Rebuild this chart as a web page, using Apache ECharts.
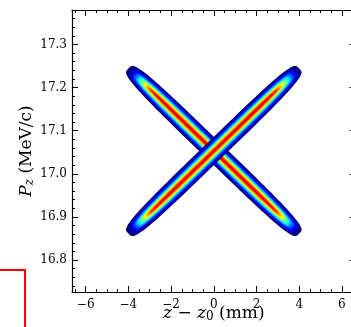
<!DOCTYPE html>
<html>
<head>
<meta charset="utf-8">
<script src="https://cdn.jsdelivr.net/npm/echarts@6/dist/echarts.min.js"></script>
<style>
html,body{margin:0;padding:0;background:#fff;overflow:hidden}
#c{width:351px;height:327px}
</style>
</head>
<body>
<div id="c"></div>
<script>
// ---- axis ranges and tick labels ----
const xRange = [-6.64, 6.64];
const yRange = [16.726, 17.38];
const xTickValues = [-6, -4, -2, 0, 2, 4, 6];
const xTickLabels = ['−6', '−4', '−2', '0', '2', '4', '6'];
const yTickValues = [16.8, 16.9, 17.0, 17.1, 17.2, 17.3];
const yTickLabels = ['16.8', '16.9', '17.0', '17.1', '17.2', '17.3'];
const titleText = 'Bunching phase space';

// ---- the two crossed beams ----
// common centre (mm, MeV/c) and slope dPz/dz of each beam: '\' first, '/' drawn on top
const beamCentre = [0.0, 17.053];
const beamSlopes = [-0.0479, 0.0479];
// density contour levels (normalised colour value) and how far each contour
// reaches along the beam from the centre (x-projection, mm)
const levelValues     = [0.00, 0.07, 0.14, 0.21, 0.28, 0.35, 0.42, 0.49, 0.56, 0.63, 0.70, 0.77, 0.84, 0.90];
const levelTipExtents = [4.00, 3.86, 3.76, 3.68, 3.60, 3.53, 3.46, 3.39, 3.32, 3.24, 3.16, 3.06, 2.95, 2.80];

// ---- styles ----
const levelWidthsPx = [20.5, 17.6, 15.2, 13.4, 12.0, 10.8, 9.7, 8.7, 7.7, 6.6, 5.6, 4.4, 3.0, 1.6];
const contourExponent = 4;
const serif = 'DejaVu Serif';

function jet(v) {
  const c = t => Math.round(255 * Math.max(0, Math.min(1, t)));
  return 'rgb(' + c(1.5 - Math.abs(4 * v - 3)) + ',' + c(1.5 - Math.abs(4 * v - 2)) + ',' +
         c(1.5 - Math.abs(4 * v - 1)) + ')';
}
function lookup(values, labels, v) {
  for (let i = 0; i < values.length; i++) if (Math.abs(values[i] - v) < 1e-6) return labels[i];
  return '';
}

const beamData = [];
beamSlopes.forEach((slope, b) => {
  levelValues.forEach((lv, i) => {
    beamData.push([beamCentre[0], beamCentre[1], slope, levelTipExtents[i], lv, i]);
  });
});

const tickStyle = {color: '#000', width: 1};
function xAx(pos, showLabels) {
  return {
    type: 'value', position: pos, min: xRange[0], max: xRange[1], splitNumber: 6,
    axisLine: {show: true, onZero: false, lineStyle: {color: '#000', width: 1.2}},
    axisTick: {show: true, inside: true, length: 6, lineStyle: tickStyle},
    minorTick: {show: true, splitNumber: 4, length: 3, lineStyle: tickStyle},
    splitLine: {show: false}, minorSplitLine: {show: false},
    axisLabel: {show: showLabels, margin: 7, fontFamily: serif, fontSize: 12, color: '#000',
      formatter: v => lookup(xTickValues, xTickLabels, v)}
  };
}
function yAx(pos, showLabels) {
  return {
    type: 'value', position: pos, min: yRange[0], max: yRange[1], splitNumber: 6,
    axisLine: {show: true, onZero: false, lineStyle: {color: '#000', width: 1.2}},
    axisTick: {show: true, inside: true, length: 6, lineStyle: tickStyle},
    minorTick: {show: true, splitNumber: 5, length: 3, lineStyle: tickStyle},
    splitLine: {show: false}, minorSplitLine: {show: false},
    axisLabel: {show: showLabels, margin: 5, fontFamily: serif, fontSize: 12, color: '#000',
      formatter: v => lookup(yTickValues, yTickLabels, v)}
  };
}

const xBottom = xAx('bottom', true);
xBottom.name = '{i|z} − {i|z}{s|0} (mm)';
xBottom.nameLocation = 'middle';
xBottom.nameGap = 13;
xBottom.nameMoveOverlap = false;
xBottom.nameTextStyle = {fontFamily: serif, fontSize: 17, color: '#000', lineHeight: 18,
  rich: {i: {fontFamily: serif, fontStyle: 'italic', fontSize: 17, lineHeight: 18},
         s: {fontFamily: serif, fontSize: 12, lineHeight: 18, verticalAlign: 'bottom', padding: [8, 0, 0, 0]}}};

const yLeft = yAx('left', true);
yLeft.name = '{i|P}{s|z} (MeV/c)';
yLeft.nameLocation = 'middle';
yLeft.nameGap = 36;
yLeft.nameMoveOverlap = false;
yLeft.nameTextStyle = {fontFamily: serif, fontSize: 17, color: '#000', lineHeight: 18,
  rich: {i: {fontFamily: serif, fontStyle: 'italic', fontSize: 17, lineHeight: 18},
         s: {fontFamily: serif, fontStyle: 'italic', fontSize: 12, lineHeight: 18, verticalAlign: 'bottom', padding: [8, 0, 0, 0]}}};

const chart = echarts.init(document.getElementById('c'), null, {renderer: 'canvas'});
chart.setOption({
  animation: false,
  backgroundColor: '#fff',
  grid: {left: 72, top: 10, right: -4.6, bottom: 35, containLabel: false, outerBoundsMode: 'none'},
  xAxis: [xBottom, xAx('top', false)],
  yAxis: [yLeft, yAx('right', false)],
  series: [{
    type: 'custom',
    coordinateSystem: 'cartesian2d',
    xAxisIndex: 0, yAxisIndex: 0,
    encode: {x: 0, y: 1},
    data: beamData,
    renderItem: function (params, api) {
      const cx = api.value(0), cy = api.value(1), slope = api.value(2), tip = api.value(3);
      const idx = api.value(5);
      const pc = api.coord([cx, cy]);
      const pe = api.coord([cx + tip, cy + slope * tip]);
      const dx = pe[0] - pc[0], dy = pe[1] - pc[1];
      const a = Math.sqrt(dx * dx + dy * dy);
      const ux = dx / a, uy = dy / a;
      const b = levelWidthsPx[idx] / 2;
      const e = 2 / contourExponent;
      const pts = [];
      for (let k = 0; k < 120; k++) {
        const t = 2 * Math.PI * k / 120;
        const c = Math.cos(t), s = Math.sin(t);
        const X = a * Math.sign(c) * Math.pow(Math.abs(c), e);
        const Y = b * Math.sign(s) * Math.pow(Math.abs(s), e);
        pts.push([pc[0] + X * ux - Y * uy, pc[1] + X * uy + Y * ux]);
      }
      return {type: 'polygon', shape: {points: pts}, style: {fill: jet(api.value(4)), stroke: null}};
    }
  }],
  graphic: [{
    type: 'text', silent: true, x: -52, y: -18, z: 100,
    style: {text: titleText, fill: '#ff0000', fontSize: 39, fontFamily: 'DejaVu Sans',
            align: 'left', verticalAlign: 'middle'}
  }, {
    type: 'rect', silent: true,
    shape: {x: -60, y: 270, width: 85, height: 120},
    style: {fill: null, stroke: '#ff0000', lineWidth: 2}
  }]
});
</script>
</body>
</html>
